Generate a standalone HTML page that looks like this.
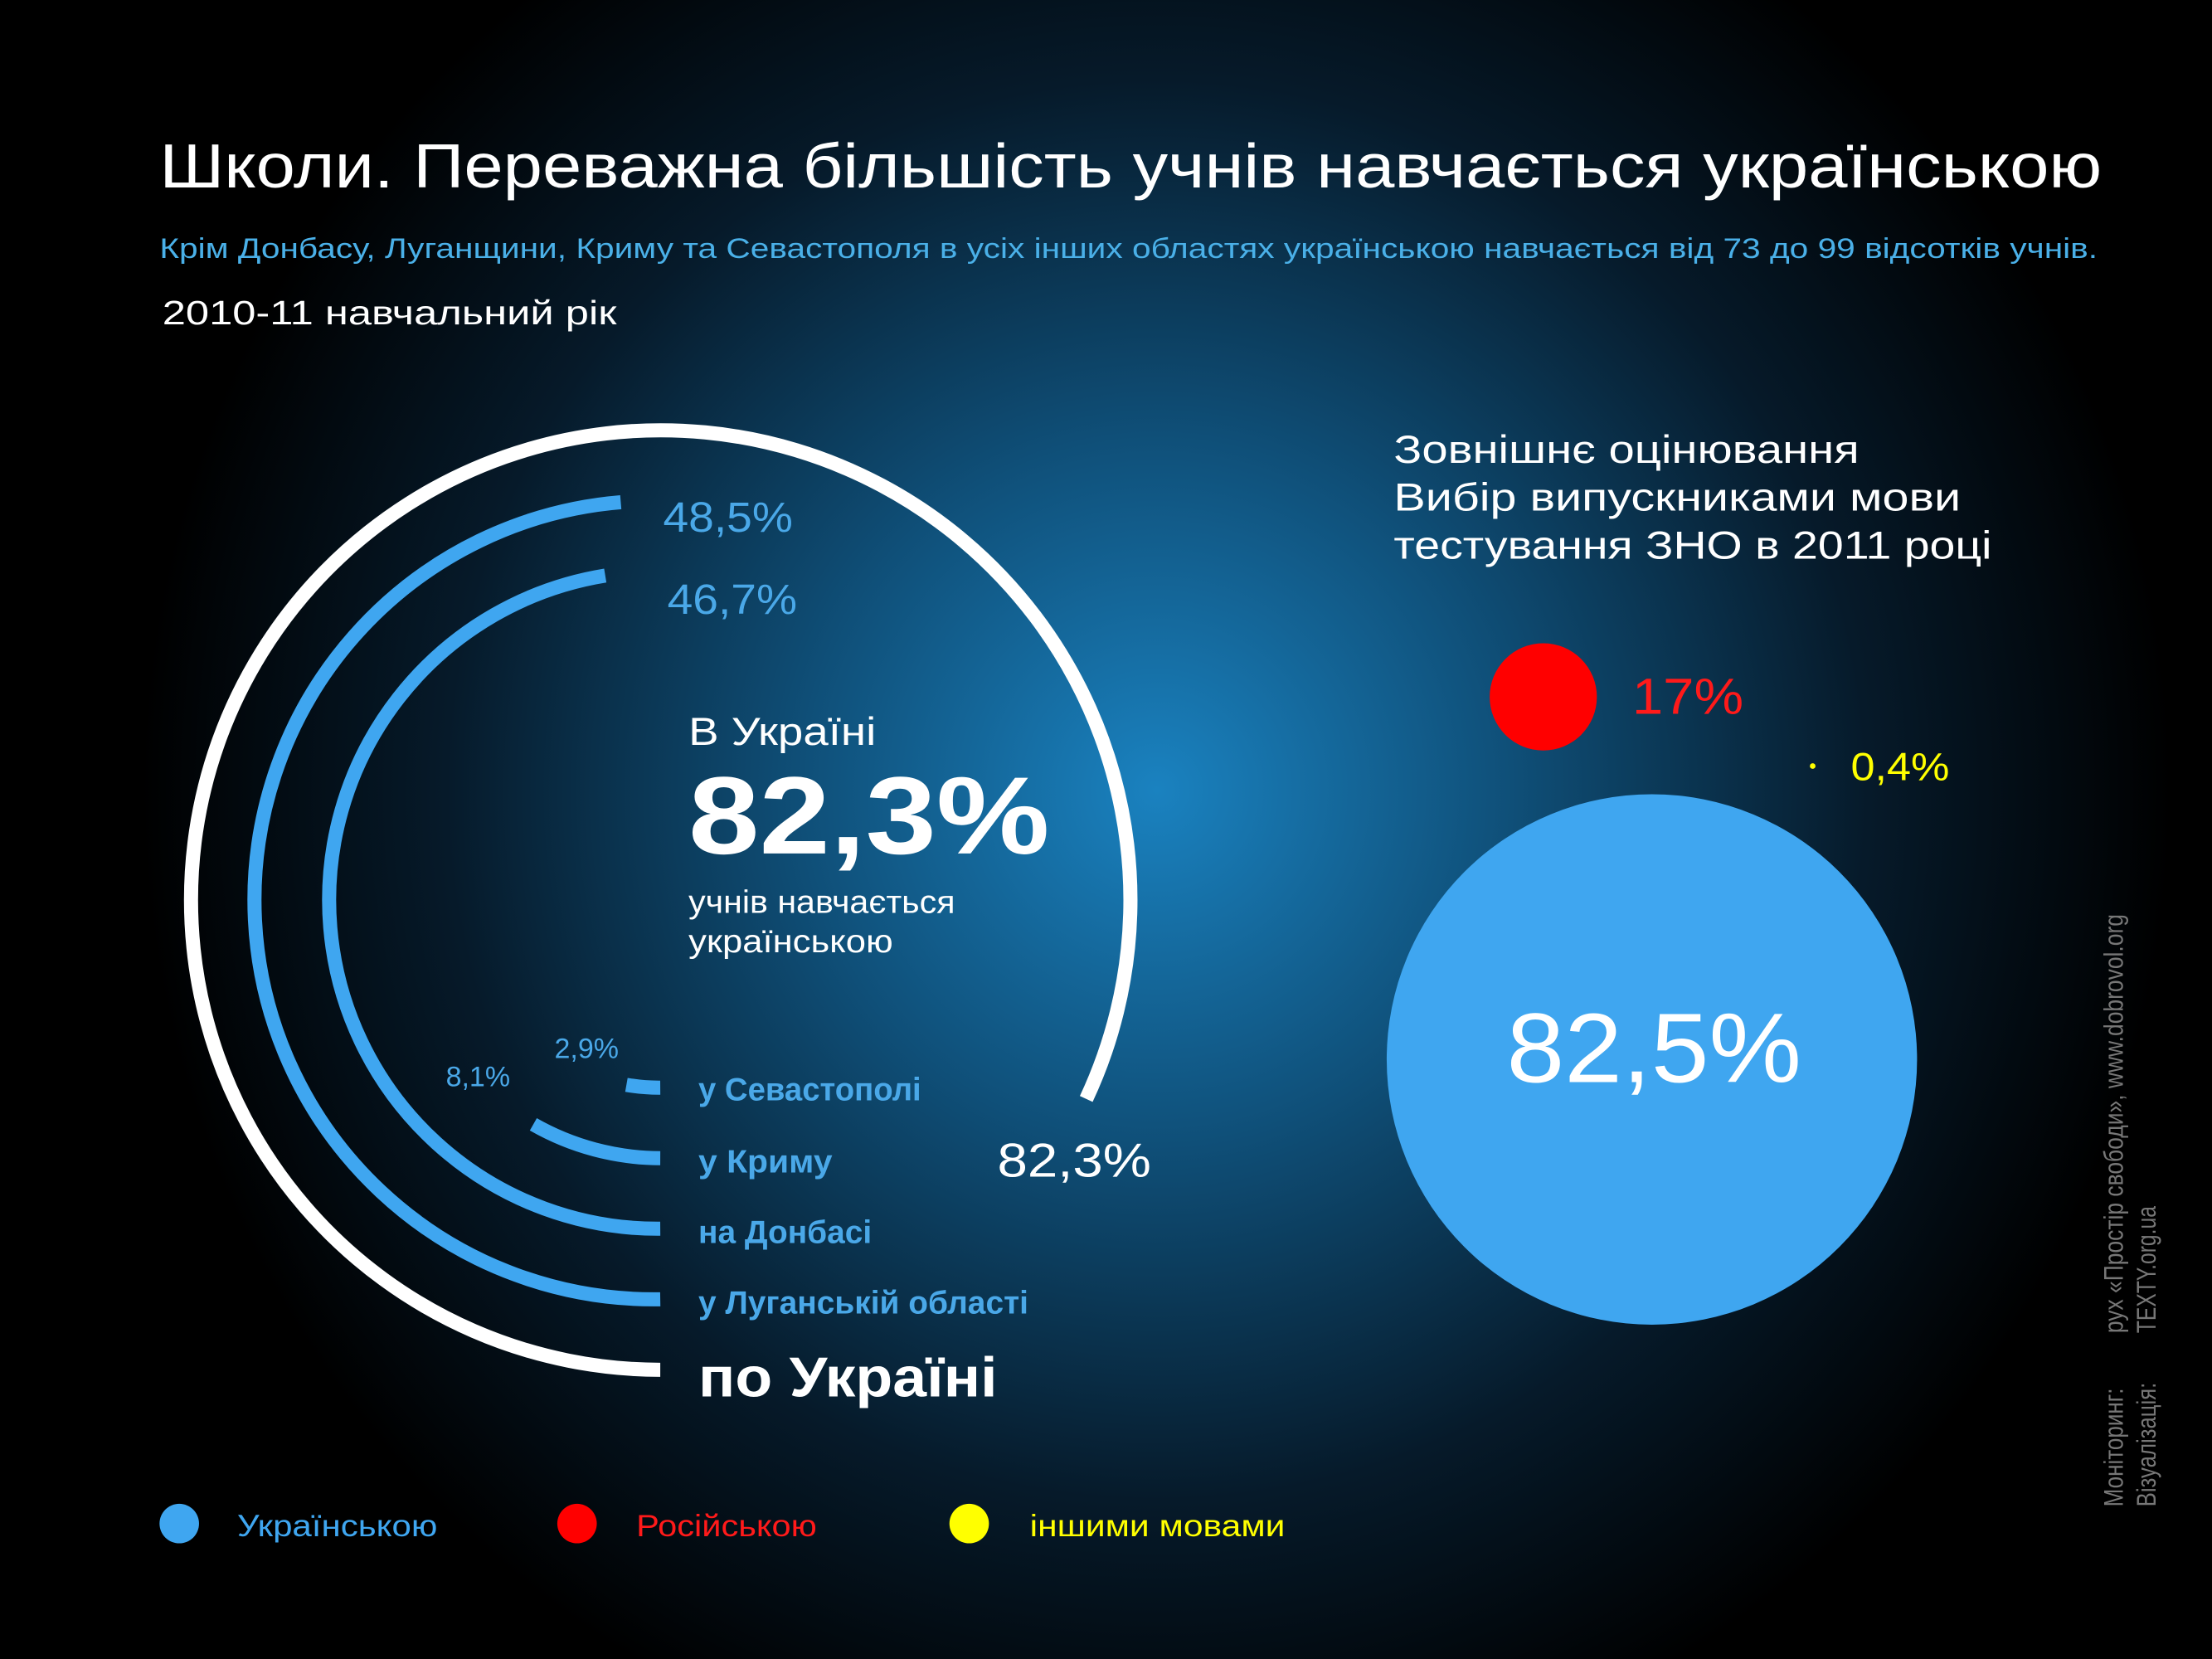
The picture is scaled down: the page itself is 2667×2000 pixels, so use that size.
<!DOCTYPE html>
<html><head><meta charset="utf-8"><style>
html,body{margin:0;padding:0;background:#000;}
svg{display:block;}
text{font-family:"Liberation Sans","DejaVu Sans",sans-serif;}
</style></head><body>
<svg width="2667" height="2000" viewBox="0 0 1568 1176" xmlns="http://www.w3.org/2000/svg">
<defs>
<radialGradient id="bg" cx="820" cy="560" r="720" gradientUnits="userSpaceOnUse">
<stop offset="0" stop-color="#1a82c0"/>
<stop offset="0.35" stop-color="#0f4f78"/>
<stop offset="0.7" stop-color="#061a2a"/>
<stop offset="1" stop-color="#000"/>
</radialGradient>
</defs>
<rect width="1568" height="1176" fill="url(#bg)"/>
<text x="113" y="133" font-size="44" fill="#fff" textLength="1377" lengthAdjust="spacingAndGlyphs">Школи. Переважна більшість учнів навчається українською</text>
<text x="113" y="183" font-size="20" fill="#4ab0e8" textLength="1374" lengthAdjust="spacingAndGlyphs">Крім Донбасу, Луганщини, Криму та Севастополя в усіх інших областях українською навчається від 73 до 99 відсотків учнів.</text>
<text x="115" y="230" font-size="24" fill="#fff" textLength="322" lengthAdjust="spacingAndGlyphs">2010-11 навчальний рік</text>

<g fill="none" stroke-width="10">
<path d="M468 971 A333 333 0 1 1 770 779" stroke="#fff"/>
<path d="M468 921 A283 283 0 0 1 440 356" stroke="#3fa6f0"/>
<path d="M468 871 A233 233 0 0 1 429 408" stroke="#3fa6f0"/>
<path d="M468 821 A183 183 0 0 1 378 797" stroke="#3fa6f0"/>
<path d="M468 771 A133 133 0 0 1 444 769" stroke="#3fa6f0"/>
</g>
<text x="470" y="377" font-size="30" fill="#4aa8e8" textLength="92" lengthAdjust="spacingAndGlyphs">48,5%</text>
<text x="473" y="435" font-size="30" fill="#4aa8e8" textLength="92" lengthAdjust="spacingAndGlyphs">46,7%</text>
<text x="488" y="528" font-size="28" fill="#fff" textLength="133" lengthAdjust="spacingAndGlyphs">В Україні</text>
<text x="488" y="605" font-size="78" font-weight="bold" fill="#fff" textLength="256" lengthAdjust="spacingAndGlyphs">82,3%</text>
<text x="488" y="647" font-size="23" fill="#fff" textLength="189" lengthAdjust="spacingAndGlyphs">учнів навчається</text>
<text x="488" y="675" font-size="23" fill="#fff" textLength="145" lengthAdjust="spacingAndGlyphs">українською</text>
<text x="393" y="750" font-size="20" fill="#4aa8e8">2,9%</text>
<text x="316" y="770" font-size="20" fill="#4aa8e8">8,1%</text>
<g font-size="23" font-weight="bold" fill="#4aa8e8">
<text x="495" y="780" textLength="158" lengthAdjust="spacingAndGlyphs">у Севастополі</text>
<text x="495" y="831" textLength="95" lengthAdjust="spacingAndGlyphs">у Криму</text>
<text x="495" y="881" textLength="123" lengthAdjust="spacingAndGlyphs">на Донбасі</text>
<text x="495" y="931" textLength="234" lengthAdjust="spacingAndGlyphs">у Луганській області</text>
</g>
<text x="495" y="990" font-size="40" font-weight="bold" fill="#fff" textLength="212" lengthAdjust="spacingAndGlyphs">по Україні</text>
<text x="707" y="834" font-size="34" fill="#fff" textLength="109" lengthAdjust="spacingAndGlyphs">82,3%</text>

<g font-size="28" fill="#fff">
<text x="988" y="328" textLength="330" lengthAdjust="spacingAndGlyphs">Зовнішнє оцінювання</text>
<text x="988" y="362" textLength="402" lengthAdjust="spacingAndGlyphs">Вибір випускниками мови</text>
<text x="988" y="396" textLength="424" lengthAdjust="spacingAndGlyphs">тестування ЗНО в 2011 році</text>
</g>
<circle cx="1094" cy="494" r="38" fill="#ff0000"/>
<text x="1157" y="506" font-size="36" fill="#ff1a1a" textLength="79" lengthAdjust="spacingAndGlyphs">17%</text>
<circle cx="1285" cy="543" r="2" fill="#ffff00"/>
<text x="1312" y="553" font-size="28" fill="#ffff00" textLength="70" lengthAdjust="spacingAndGlyphs">0,4%</text>
<circle cx="1171" cy="751" r="188" fill="#3fa6f0"/>
<text x="1068" y="767" font-size="70" fill="#fff" textLength="209" lengthAdjust="spacingAndGlyphs">82,5%</text>

<circle cx="127" cy="1080" r="14" fill="#3fa6f0"/>
<circle cx="409" cy="1080" r="14" fill="#ff0000"/>
<circle cx="687" cy="1080" r="14" fill="#ffff00"/>
<text x="168" y="1089" font-size="22" fill="#3fa6f0" textLength="142" lengthAdjust="spacingAndGlyphs">Українською</text>
<text x="451" y="1089" font-size="22" fill="#ff1a1a" textLength="128" lengthAdjust="spacingAndGlyphs">Російською</text>
<text x="730" y="1089" font-size="22" fill="#ffff00" textLength="181" lengthAdjust="spacingAndGlyphs">іншими мовами</text>

<g font-size="19" fill="#777">
<text transform="translate(1505,1068) rotate(-90)" textLength="84" lengthAdjust="spacingAndGlyphs">Моніторинг:</text>
<text transform="translate(1505,945) rotate(-90)" textLength="297" lengthAdjust="spacingAndGlyphs">рух «Простір свободи», www.dobrovol.org</text>
<text transform="translate(1528,1068) rotate(-90)" textLength="88" lengthAdjust="spacingAndGlyphs">Візуалізація:</text>
<text transform="translate(1528,945) rotate(-90)" textLength="90" lengthAdjust="spacingAndGlyphs">TEXTY.org.ua</text>
</g>
</svg>
</body></html>
